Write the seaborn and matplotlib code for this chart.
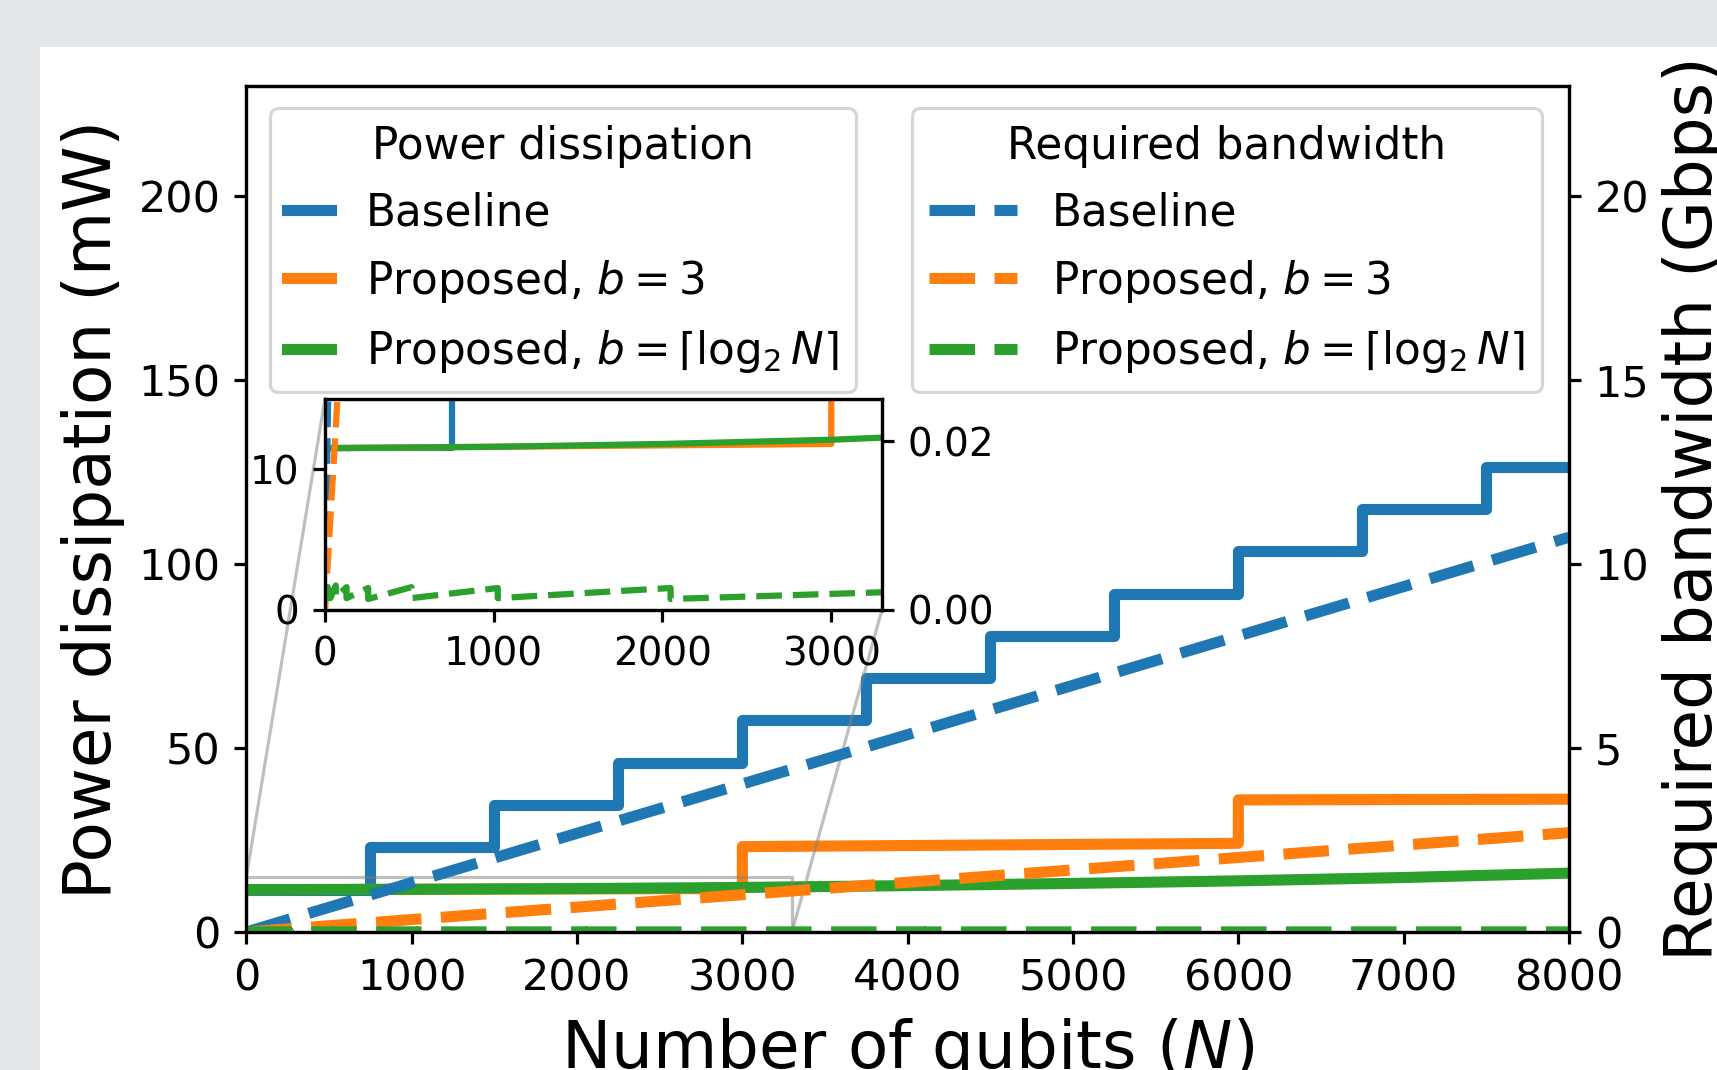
import matplotlib
matplotlib.use("Agg")
import matplotlib.pyplot as plt
from matplotlib.patches import Rectangle, ConnectionPatch
from matplotlib.lines import Line2D
import seaborn as sns

# ---------------- data ----------------
# power dissipation (mW)
n_base = [0, 750, 1500, 2250, 3000, 3750, 4500, 5250, 6000, 6750, 7500, 8000]
p_base = [11.5, 23.0, 34.5, 46.0, 57.5, 69.0, 80.5, 92.0, 103.5, 115.0, 126.5, 126.5]

n_b3 = [0, 3000, 3000, 6000, 6000, 8000]
p_b3 = [11.5, 11.8, 23.2, 24.1, 35.9, 36.1]

n_log = [0, 1000, 2000, 3000, 4000, 5000, 6000, 7000, 8000]
p_log = [11.5, 11.6, 11.8, 12.1, 12.6, 13.2, 13.9, 14.8, 16.0]

# required bandwidth (Gbps)
n_bw_lin = [0, 8000]
bw_base = [0.0, 10.73]
bw_b3 = [0.0, 2.70]

n_bw_log = [1, 2, 2, 4, 4, 8, 8, 16, 16, 32, 32, 64, 64, 128, 128, 256, 256,
            512, 512, 1024, 1024, 2048, 2048, 4096, 4096, 8000]
bw_log = [0.0013, 0.0026, 0.0013, 0.0026, 0.0013, 0.0026, 0.0013, 0.0027,
          0.0014, 0.0028, 0.0014, 0.0029, 0.0015, 0.0027, 0.0014, 0.0026,
          0.0013, 0.0027, 0.0014, 0.0026, 0.0014, 0.0026, 0.0013, 0.0026,
          0.0013, 0.0025]

x_ticks = [0, 1000, 2000, 3000, 4000, 5000, 6000, 7000, 8000]
yl_ticks = [0, 50, 100, 150, 200]
yr_ticks = [0, 5, 10, 15, 20]
ins_x_ticks = [0, 1000, 2000, 3000]
ins_yl_ticks = [0, 10]
ins_yr_ticks = [0.0, 0.02]
ins_yr_labels = ["0.00", "0.02"]

labels = ["Baseline", "Proposed, $b = 3$", r"Proposed, $b = \lceil \log_2 N \rceil$"]
colors = ["#1f77b4", "#ff7f0e", "#2ca02c"]

# ---------------- styling ----------------
plt.rcParams["font.family"] = ["DejaVu Sans"]
plt.rcParams["mathtext.fontset"] = "dejavusans"

TICK_FS = 31
INS_TICK_FS = 28
LABEL_FS = 47.5
LEG_FS = 31.5
LW = 8.0
INS_LW = 4.5
DASH = (0, (4.1, 1.75))

fig = plt.figure(figsize=(17.17, 10.70), dpi=100, facecolor="#e4e8eb")
fig.patches.append(Rectangle((40 / 1717, 0), 1.0, 1 - 47 / 1070,
                             transform=fig.transFigure, facecolor="white",
                             edgecolor="none", zorder=-10))

ax = fig.add_axes([0.1435, 0.1290, 0.7703, 0.7907])
ax.set_facecolor("white")
ax2 = ax.twinx()


def style_axis(a, fs, pad):
    for s in a.spines.values():
        s.set_linewidth(2.3)
    a.tick_params(axis="both", which="major", labelsize=fs, length=8.5,
                  width=2.3, pad=pad, direction="out")


power_sets = [(n_base, p_base, "steps-post"), (n_b3, p_b3, "default"),
              (n_log, p_log, "default")]
bw_sets = [(n_bw_lin, bw_base), (n_bw_lin, bw_b3), (n_bw_log, bw_log)]

for (nx, py, ds), c in zip(power_sets, colors):
    sns.lineplot(x=nx, y=py, ax=ax, color=c, linewidth=LW, estimator=None,
                 sort=False, legend=False, drawstyle=ds)
for (nx, by), c in zip(bw_sets, colors):
    sns.lineplot(x=nx, y=by, ax=ax2, color=c, linewidth=LW, estimator=None,
                 sort=False, legend=False, linestyle=DASH)

ax.set_xlim(0, 8000)
ax.set_ylim(0, 230)
ax2.set_ylim(0, 23)
ax.set_xticks(x_ticks)
ax.set_yticks(yl_ticks)
ax2.set_yticks(yr_ticks)
style_axis(ax, TICK_FS, 10)
style_axis(ax2, TICK_FS, 10)
ax.set_xlabel("Number of qubits ($N$)", fontsize=LABEL_FS, labelpad=12)
ax.set_ylabel("Power dissipation (mW)", fontsize=LABEL_FS, labelpad=10)
ax2.set_ylabel("Required bandwidth (Gbps)", fontsize=LABEL_FS, labelpad=9)

# ---------------- inset ----------------
axins = ax.inset_axes([0.0594, 0.3806, 0.4211, 0.2494])
axins2 = axins.twinx()
for (nx, py, ds), c in zip(power_sets, colors):
    sns.lineplot(x=nx, y=py, ax=axins, color=c, linewidth=INS_LW,
                 estimator=None, sort=False, legend=False, drawstyle=ds)
for (nx, by), c in zip(bw_sets, colors):
    sns.lineplot(x=nx, y=by, ax=axins2, color=c, linewidth=INS_LW,
                 estimator=None, sort=False, legend=False, linestyle=DASH)
axins.set_xlim(0, 3300)
axins.set_ylim(0, 15)
axins2.set_ylim(0, 0.025)
axins.set_xticks(ins_x_ticks)
axins.set_yticks(ins_yl_ticks)
axins2.set_yticks(ins_yr_ticks)
axins2.set_yticklabels(ins_yr_labels)
style_axis(axins, INS_TICK_FS, 10)
style_axis(axins2, INS_TICK_FS, 10)
for a in (axins, axins2):
    a.set_xlabel("")
    a.set_ylabel("")

# zoom indicator: rectangle + two connectors
ix0, ix1 = axins.get_xlim()
iy0, iy1 = axins.get_ylim()
ax.add_patch(Rectangle((ix0, iy0), ix1 - ix0, iy1 - iy0, fill=False,
                       edgecolor="0.5", alpha=0.5, linewidth=2.3, zorder=4.9))
for xa, ya, xb, yb in [(ix0, iy1, 0, 1), (ix1, iy0, 1, 0)]:
    con = ConnectionPatch(xyA=(xa, ya), coordsA=ax.transData,
                          xyB=(xb, yb), coordsB=axins.transAxes,
                          color="0.5", alpha=0.5, linewidth=2.3,
                          clip_on=False, zorder=4.9)
    ax.add_artist(con)

# ---------------- legends ----------------
solid_handles = [Line2D([], [], color=c, linewidth=LW) for c in colors]
dash_handles = [Line2D([], [], color=c, linewidth=LW, linestyle=DASH) for c in colors]

leg1 = ax.legend(solid_handles, labels, title="Power dissipation",
                 loc="upper left", bbox_to_anchor=(0.0178, 0.974),
                 borderaxespad=0, fontsize=LEG_FS, title_fontsize=LEG_FS,
                 handlelength=1.0, handletextpad=0.8, labelspacing=0.53,
                 framealpha=0.8)
leg1.get_frame().set_linewidth(2.3)
leg2 = ax2.legend(dash_handles, labels, title="Required bandwidth",
                  loc="upper left", bbox_to_anchor=(0.503, 0.974),
                  borderaxespad=0, fontsize=LEG_FS, title_fontsize=LEG_FS,
                  handlelength=2.0, handletextpad=0.8, labelspacing=0.53,
                  framealpha=0.8)
leg2.get_frame().set_linewidth(2.3)

fig.savefig("out.png", dpi=100, facecolor=fig.get_facecolor())
